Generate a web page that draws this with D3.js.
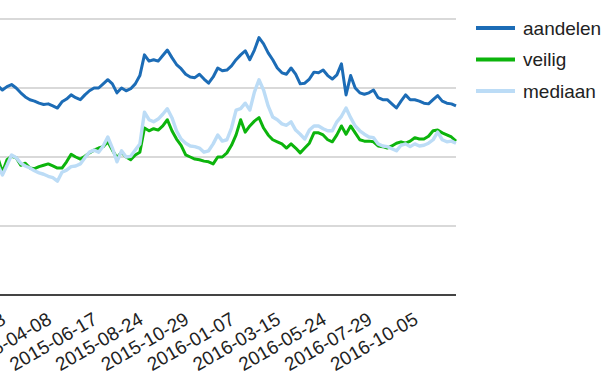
<!DOCTYPE html>
<html>
<head>
<meta charset="utf-8">
<script src="https://cdn.jsdelivr.net/npm/d3@7/dist/d3.min.js"></script>
<style>
  html, body { margin: 0; padding: 0; background: #fff; }
  svg { display: block; }
</style>
</head>
<body>
<svg id="chart" width="611" height="389"></svg>
<script>
// ---- data (weekly samples, index 0 = 2015-01-28, labels every 10 samples) ----
const seriesNames = ["aandelen", "veilig", "mediaan"];
const startIndex = -2;
const tickLabels = ["2015-01-28", "2015-04-08", "2015-06-17", "2015-08-24", "2015-10-29",
                    "2016-01-07", "2016-03-15", "2016-05-24", "2016-07-29", "2016-10-05"];
const tickStep = 10;
const yTicks = [80, 90, 100, 110, 120];

const aandelen = [
  110.3, 109.7, 110.2, 110.5, 110.0, 109.3, 108.7, 108.3, 108.1, 107.8,
  107.6, 107.7, 107.4, 107.1, 108.0, 108.4, 109.0, 108.6, 108.3, 109.0,
  109.6, 110.0, 110.0, 110.6, 111.2, 110.6, 109.3, 110.0, 109.6, 109.9,
  110.6, 111.8, 114.8, 113.9, 114.1, 113.9, 114.7, 115.5, 114.4, 113.4,
  112.8, 112.0, 111.6, 111.5, 112.0, 111.3, 110.7, 111.6, 112.9, 112.5,
  112.6, 113.2, 114.1, 114.8, 115.4, 114.1, 115.5, 117.3, 116.4, 115.1,
  114.1, 112.9, 112.2, 112.0, 112.9, 112.0, 110.6, 110.7, 111.3, 112.3,
  112.2, 112.6, 111.8, 111.3, 111.9, 113.5, 109.0, 111.8, 110.0, 109.3,
  109.1, 109.3, 109.7, 108.6, 108.3, 108.3, 107.7, 107.1, 108.1, 109.0,
  108.3, 108.3, 108.1, 107.8, 107.7, 108.3, 108.9, 108.1, 107.8, 107.7,
  107.4
];
const veilig = [
  99.9, 97.8, 99.6, 100.1, 99.9, 98.8, 99.1, 98.4, 98.3, 98.6,
  98.8, 99.0, 98.7, 98.4, 98.4, 99.3, 100.4, 100.0, 99.7, 100.1,
  100.6, 101.0, 101.3, 101.5, 102.2, 101.0, 99.9, 100.7, 100.0, 99.6,
  100.3, 100.7, 104.2, 103.8, 104.1, 103.9, 104.5, 105.4, 103.8, 102.6,
  101.7, 100.3, 100.0, 99.7, 99.6, 99.4, 99.3, 99.0, 100.0, 100.0,
  100.6, 101.7, 103.2, 105.4, 103.6, 104.5, 105.2, 105.7, 104.2, 103.2,
  102.5, 102.2, 101.9, 101.3, 101.9, 101.3, 100.6, 101.3, 102.0, 103.5,
  103.5, 103.2, 102.5, 102.2, 103.2, 104.5, 103.3, 104.5, 103.5, 102.5,
  102.3, 102.3, 102.2, 101.6, 101.5, 101.3, 101.6, 102.0, 102.2, 102.0,
  102.3, 102.8, 102.6, 102.6, 103.0, 103.8, 103.9, 103.5, 103.2, 102.9,
  102.3
];
const mediaan = [
  98.8, 97.4, 98.8, 100.3, 99.9, 99.1, 98.7, 98.4, 98.0, 97.7,
  97.5, 97.2, 97.0, 96.5, 97.8, 98.1, 98.6, 98.7, 99.0, 99.9,
  100.7, 101.0, 100.7, 101.6, 102.9, 101.3, 99.3, 100.9, 100.0, 100.1,
  101.0, 101.9, 106.5, 105.4, 105.1, 105.5, 106.2, 107.0, 105.7, 103.8,
  102.6, 102.0, 101.6, 101.5, 101.3, 100.7, 100.9, 101.9, 103.2, 102.3,
  102.5, 104.2, 106.8, 107.0, 107.8, 106.8, 109.4, 111.2, 109.7, 107.4,
  105.8, 105.4, 104.8, 104.6, 105.1, 103.9, 103.3, 102.6, 103.9, 104.5,
  104.5, 104.1, 103.8, 103.8, 105.1, 105.9, 107.1, 105.7, 104.5, 103.8,
  103.3, 102.9, 102.8, 101.9, 101.6, 101.5, 101.2, 100.9, 101.7, 101.9,
  101.5, 101.9, 101.6, 101.7, 102.0, 102.5, 103.6, 102.5, 102.2, 102.3,
  102.0
];
const colors = ["#1c6cb6", "#0cb40c", "#bcdcf6"];

// ---- drawing ----
const svg = d3.select("#chart");
const lastIndex = startIndex + aandelen.length - 1;
const x = d3.scaleLinear().domain([0, lastIndex]).range([7, 456]);
const y = d3.scaleLinear().domain([80, 120]).range([295, 19]);
const plotLeft = x(startIndex - 8);
const plotRight = x(lastIndex);

// gridlines
svg.append("g").selectAll("line")
  .data(yTicks.slice(1))
  .join("line")
  .attr("x1", plotLeft).attr("x2", plotRight)
  .attr("y1", d => y(d)).attr("y2", d => y(d))
  .attr("stroke", "#cccccc").attr("stroke-width", 1.5);

// series
const series = [aandelen, veilig, mediaan];
const line = d3.line()
  .x((d, i) => x(startIndex + i))
  .y(d => y(d));
svg.append("g").selectAll("path")
  .data(series)
  .join("path")
  .attr("d", d => line(d))
  .attr("fill", "none")
  .attr("stroke", (d, i) => colors[i])
  .attr("stroke-width", (d, i) => i === 2 ? 3.4 : 3)
  .attr("stroke-linejoin", "round");

// baseline
svg.append("line")
  .attr("x1", plotLeft).attr("x2", plotRight)
  .attr("y1", y(yTicks[0])).attr("y2", y(yTicks[0]))
  .attr("stroke", "#444").attr("stroke-width", 2);

// x tick labels (slanted)
const tickIdx = tickLabels.map((t, k) => k * tickStep);
svg.append("g").selectAll("text")
  .data(tickLabels)
  .join("text")
  .attr("transform", (d, k) => `translate(${x(tickIdx[k])},323) rotate(-30)`)
  .attr("text-anchor", "end")
  .attr("font-family", "Liberation Sans, Arial, sans-serif")
  .attr("font-size", 19)
  .attr("fill", "#222")
  .text(d => d);

// legend
const legend = svg.append("g").selectAll("g")
  .data(seriesNames)
  .join("g")
  .attr("transform", (d, i) => `translate(476,${28 + i * 31.5})`);
legend.append("line")
  .attr("x1", 0).attr("x2", 39)
  .attr("stroke", (d, i) => colors[i])
  .attr("stroke-width", 4);
legend.append("text")
  .attr("x", 47).attr("y", 0)
  .attr("dy", "0.35em")
  .attr("font-family", "Liberation Sans, Arial, sans-serif")
  .attr("font-size", 19)
  .attr("fill", "#222")
  .text(d => d);
</script>
</body>
</html>
